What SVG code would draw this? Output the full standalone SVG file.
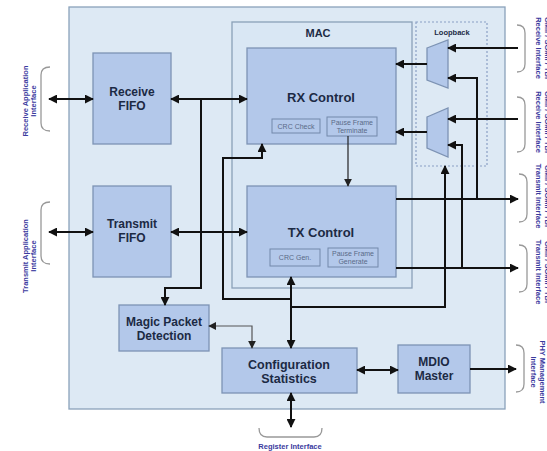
<svg xmlns="http://www.w3.org/2000/svg" width="547" height="451" viewBox="0 0 547 451">
<defs>
<style>
.blk{fill:#b3c8ea;stroke:#7d93b4;stroke-width:1.3}
.sub{fill:none;stroke:#7388aa;stroke-width:1}
.lbl{font-family:"Liberation Sans",Arial,sans-serif;font-weight:bold;fill:#1c2a44;text-anchor:middle}
.sm{font-family:"Liberation Sans",Arial,sans-serif;font-size:7px;fill:#5a6a88;text-anchor:middle}
.ifc{font-family:"Liberation Sans",Arial,sans-serif;font-weight:bold;font-size:7.5px;fill:#3a3a9e;text-anchor:middle}
.br{fill:none;stroke:#999;stroke-width:1.3}
.ln{fill:none;stroke:#111;stroke-width:2}
.thin{fill:none;stroke:#222;stroke-width:1.2}
.lt{fill:none;stroke:#555;stroke-width:1.2}
</style>
<marker id="ah" viewBox="0 0 10 10" refX="9" refY="5" markerWidth="9" markerHeight="9" markerUnits="userSpaceOnUse" orient="auto-start-reverse"><path d="M0,0 L10,5 L0,10 z" fill="#111"/></marker>
<marker id="ahs" viewBox="0 0 10 10" refX="9" refY="5" markerWidth="8" markerHeight="8" markerUnits="userSpaceOnUse" orient="auto-start-reverse"><path d="M0,0 L10,5 L0,10 z" fill="#222"/></marker>
</defs>
<rect width="547" height="451" fill="#ffffff"/>
<g id="outer"><rect x="69" y="7" width="436" height="402" fill="#dde9f4" stroke="#8aa2bb" stroke-width="1.3"/></g>
<g id="mac"><rect x="232" y="22" width="180" height="266" fill="#d9e7f4" stroke="#8aa0b8" stroke-width="1.3"/><text class="lbl" x="318" y="37" font-size="11">MAC</text></g>
<g id="loopback"><rect x="416" y="22" width="71" height="144" fill="none" stroke="#8aa0c4" stroke-width="1.2" stroke-dasharray="2,2"/><text class="lbl" x="452" y="35" font-size="7.5">Loopback</text>
<polygon points="427,48 448,40 448,88 427,80" class="blk"/>
<polygon points="427,117 448,108 448,157 427,148" class="blk"/></g>
<g id="rxfifo"><rect class="blk" x="93" y="53" width="78" height="91"/><text class="lbl" x="132" y="96" font-size="12">Receive</text><text class="lbl" x="132" y="110" font-size="12">FIFO</text></g>
<g id="txfifo"><rect class="blk" x="93" y="186" width="78" height="91"/><text class="lbl" x="132" y="228" font-size="12">Transmit</text><text class="lbl" x="132" y="242" font-size="12">FIFO</text></g>
<g id="rxctl"><rect class="blk" x="247" y="48" width="149" height="96"/><text class="lbl" x="321" y="102" font-size="13">RX Control</text>
<rect class="sub" x="272" y="119" width="48" height="14"/><text class="sm" x="296" y="129">CRC Check</text>
<rect class="sub" x="327" y="117" width="50" height="19"/><text class="sm" x="352" y="125" font-size="6.5">Pause Frame</text><text class="sm" x="352" y="133" font-size="6.5">Terminate</text></g>
<g id="txctl"><rect class="blk" x="247" y="186" width="149" height="91"/><text class="lbl" x="321" y="237" font-size="13">TX Control</text>
<rect class="sub" x="270" y="249" width="50" height="17"/><text class="sm" x="295" y="260">CRC Gen.</text>
<rect class="sub" x="328" y="248" width="50" height="19"/><text class="sm" x="353" y="256" font-size="6.5">Pause Frame</text><text class="sm" x="353" y="264" font-size="6.5">Generate</text></g>
<g id="magic"><rect class="blk" x="119" y="305" width="90" height="46"/><text class="lbl" x="164" y="326" font-size="12">Magic Packet</text><text class="lbl" x="164" y="340" font-size="12">Detection</text></g>
<g id="config"><rect class="blk" x="222" y="348" width="135" height="45"/><text class="lbl" x="289" y="369" font-size="12.5">Configuration</text><text class="lbl" x="289" y="383" font-size="12.5">Statistics</text></g>
<g id="mdio"><rect class="blk" x="398" y="345" width="72" height="48"/><text class="lbl" x="434" y="366" font-size="12">MDIO</text><text class="lbl" x="434" y="380" font-size="12">Master</text></g>
<g id="connectors">
<line class="ln" x1="49" y1="99" x2="93" y2="99" marker-start="url(#ah)" marker-end="url(#ah)"/>
<line class="ln" x1="49" y1="232" x2="93" y2="232" marker-start="url(#ah)" marker-end="url(#ah)"/>
<line class="ln" x1="171" y1="99" x2="247" y2="99" marker-start="url(#ah)" marker-end="url(#ah)"/>
<line class="ln" x1="171" y1="232" x2="247" y2="232" marker-start="url(#ah)" marker-end="url(#ah)"/>
<path class="ln" d="M201,99 V288 H165 V305" marker-end="url(#ah)"/>
<path class="ln" d="M291,299 H223 V158 H262 V144" marker-end="url(#ah)"/>
<line class="ln" x1="291" y1="277" x2="291" y2="348" marker-start="url(#ah)" marker-end="url(#ah)"/>
<path class="ln" d="M291,307 H445 V166" marker-end="url(#ah)"/>
<path class="lt" d="M209,326 H252 V348" marker-start="url(#ahs)" marker-end="url(#ahs)"/>
<line class="ln" x1="357" y1="370" x2="398" y2="370" marker-start="url(#ah)" marker-end="url(#ah)"/>
<line class="ln" x1="470" y1="369" x2="516" y2="369" marker-end="url(#ah)"/>
<line class="ln" x1="291" y1="393" x2="291" y2="427" marker-start="url(#ah)" marker-end="url(#ah)"/>
<line class="thin" x1="348" y1="136" x2="348" y2="186" marker-end="url(#ahs)"/>
<line class="ln" x1="396" y1="199" x2="518" y2="199" marker-end="url(#ah)"/>
<line class="ln" x1="396" y1="268" x2="518" y2="268" marker-end="url(#ah)"/>
<path class="ln" d="M477,199 V78 H448" marker-end="url(#ah)"/>
<path class="ln" d="M462,268 V145 H448" marker-end="url(#ah)"/>
<line class="ln" x1="518" y1="48" x2="448" y2="48" marker-end="url(#ah)"/>
<line class="ln" x1="518" y1="119" x2="448" y2="119" marker-end="url(#ah)"/>
<line class="ln" x1="427" y1="64" x2="396" y2="64" marker-end="url(#ah)"/>
<line class="ln" x1="427" y1="132" x2="396" y2="132" marker-end="url(#ah)"/>
</g>
<g id="interfaces">
<path class="br" d="M50,67 Q41,67 41,75 V123 Q41,131 50,131"/>
<path class="br" d="M50,202 Q41,202 41,210 V256 Q41,264 50,264"/>
<path class="br" d="M517,25 Q525,25 525,33 V64 Q525,72 517,72"/>
<path class="br" d="M517,97 Q525,97 525,105 V144 Q525,152 517,152"/>
<path class="br" d="M519,174 Q527,174 527,182 V214 Q527,222 519,222"/>
<path class="br" d="M519,245 Q527,245 527,253 V284 Q527,292 519,292"/>
<path class="br" d="M516,345 Q524,345 524,353 V384 Q524,392 516,392"/>
<path class="br" d="M259,428 Q259,437 267,437 H314 Q322,437 322,428"/>
<text class="ifc" transform="translate(28,101) rotate(-90)">Receive Application<tspan x="0" dy="8">Interface</tspan></text>
<text class="ifc" transform="translate(28,256) rotate(-90)">Transmit Application<tspan x="0" dy="8">Interface</tspan></text>
<text class="ifc" transform="translate(545,48) rotate(90)">GMII / SGMII / TBI<tspan x="0" dy="9">Receive Interface</tspan></text>
<text class="ifc" transform="translate(545,122) rotate(90)">GMII / SGMII / TBI<tspan x="0" dy="9">Receive Interface</tspan></text>
<text class="ifc" transform="translate(545,196) rotate(90)">GMII / SGMII / TBI<tspan x="0" dy="9">Transmit Interface</tspan></text>
<text class="ifc" transform="translate(545,272) rotate(90)">GMII / SGMII / TBI<tspan x="0" dy="9">Transmit Interface</tspan></text>
<text class="ifc" transform="translate(540,372) rotate(90)">PHY Management<tspan x="0" dy="9">Interface</tspan></text>
<text class="ifc" x="290" y="449">Register Interface</text>
</g>
</svg>
